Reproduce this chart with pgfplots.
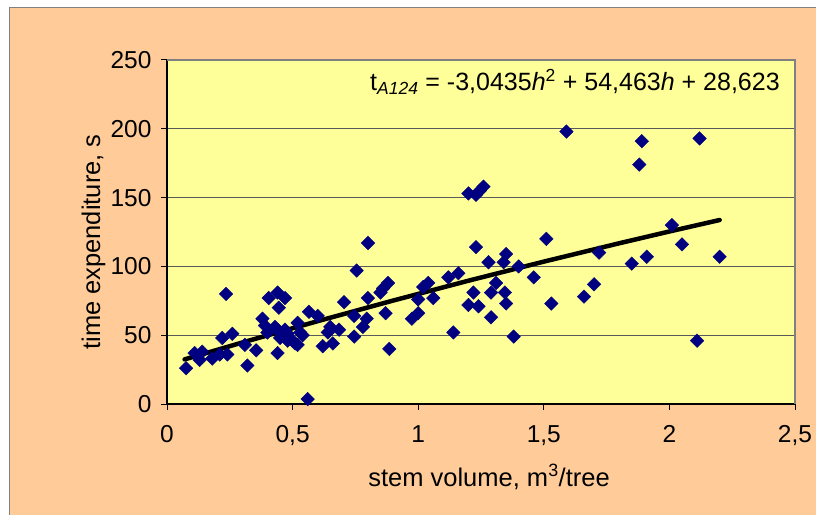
\documentclass[border=0pt]{standalone}
\usepackage{pgfplots}
\pgfplotsset{compat=1.18}
\usepackage{pgfplotstable}
\usepackage{fontspec}
\setmainfont{Liberation Sans}
\definecolor{peach}{HTML}{FFCC99}
\definecolor{plotyellow}{HTML}{FFFF99}
\definecolor{navy}{HTML}{000080}
\definecolor{gridgray}{HTML}{5A5A5A}
\definecolor{bordergray}{HTML}{808080}

\pgfplotstableread{
x y
0.076 26
0.11 37
0.13 32
0.14 38
0.18 33
0.21 36
0.22 48
0.235 80
0.24 36
0.26 51
0.31 43
0.32 28
0.355 39
0.38 62
0.39 57
0.405 77
0.40 52
0.43 56
0.44 81
0.445 70
0.44 54
0.44 37
0.45 48
0.47 77
0.47 54
0.48 51
0.48 46
0.50 46
0.51 44
0.52 43
0.52 59
0.53 52
0.54 50
0.56 3.6
0.565 67
0.60 64
0.62 42
0.64 52
0.65 56
0.66 44
0.685 54
0.705 74
0.745 49
0.745 64
0.755 97
0.78 56
0.795 62
0.80 77
0.80 117
0.85 81
0.86 84
0.88 88
0.87 66
0.885 40
0.975 62
1.00 66
1.00 76
1.02 85
1.04 88
1.06 77
1.12 92
1.14 52
1.16 95
1.20 153
1.20 72
1.22 81
1.23 114
1.23 152
1.245 155
1.26 158
1.24 71
1.28 103
1.29 81
1.29 63
1.31 88
1.34 103
1.345 81
1.35 109
1.35 73
1.38 49
1.40 100
1.46 92
1.51 120
1.53 73
1.59 198
1.66 78
1.70 87
1.72 110
1.85 102
1.88 174
1.89 191
1.91 107
2.01 130
2.05 116
2.11 46
2.12 193
2.20 107
}\datatable

\pgfplotstableread{
x y
0.07 32.42
0.3 44.69
0.6 60.21
0.9 75.17
1.2 89.60
1.5 103.47
1.8 116.80
2.0 125.38
2.2 133.71
}\trendtable

\begin{document}
\begin{tikzpicture}
\useasboundingbox (0,0) rectangle (816pt,514pt);
\fill[white] (0,0) rectangle (816pt,514pt);
\filldraw[fill=peach, draw=bordergray, line width=1pt] (9pt,-3pt) rectangle (820pt,506pt);
\begin{axis}[
  at={(167pt,110pt)}, anchor=south west,
  scale only axis, width=628pt, height=344pt,
  xmin=0, xmax=2.5, ymin=0, ymax=250,
  xtick={0,0.5,1,1.5,2,2.5},
  ytick={0,50,100,150,200,250},
  axis x line*=bottom, axis y line*=left,
  axis line style={black, line width=1.2pt},
  axis background/.style={fill=plotyellow},
  tick align=outside,
  major tick length=6pt,
  tick style={black, line width=1pt},
  ymajorgrids,
  grid style={draw=gridgray, line width=1pt},
  /pgf/number format/assume math mode=true,
  /pgf/number format/use comma,
  tick label style={font=\fontsize{24.5}{29}\selectfont},
  yticklabel style={xshift=-6pt},
  xticklabel style={yshift=-12pt},
  clip=false,
]
\draw[bordergray, line width=1.2pt] (rel axis cs:0,1) -- (rel axis cs:1,1) -- (rel axis cs:1,0);
\addplot[black, line width=4.5pt, line cap=round, line join=round] table {\trendtable};
\addplot[only marks, mark=square*, mark size=4.8pt, mark options={rotate=45, fill=navy, draw=navy}] table {\datatable};
\node[anchor=base east, font=\fontsize{25}{29}\selectfont, inner sep=0pt] at (axis cs:2.44,227.5)
  {t\textsubscript{\textit{A124}} = -3,0435\textit{h}\textsuperscript{2} + 54,463\textit{h} + 28,623};
\end{axis}
\node[anchor=base, font=\fontsize{25.5}{30}\selectfont, inner sep=0pt] at (489pt,28pt) {stem volume, m\textsuperscript{3}/tree};
\node[anchor=base, rotate=90, font=\fontsize{25.5}{30}\selectfont, inner sep=0pt] at (100pt,272pt) {time expenditure, s};
\end{tikzpicture}
\end{document}
